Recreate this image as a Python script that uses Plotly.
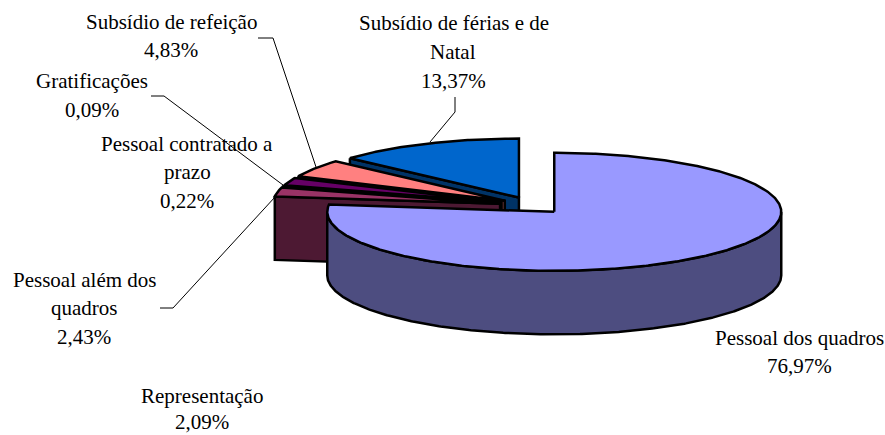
import math
import plotly.graph_objects as go

# Data
categories = ["Pessoal dos quadros", "Pessoal além dos quadros", "Pessoal contratado a prazo",
              "Gratificações", "Representação", "Subsídio de refeição", "Subsídio de férias e de Natal"]
values = [76.97, 2.43, 0.22, 0.09, 2.09, 4.83, 13.37]
colors = ["#9999FF", "#993366", "#FFFFCC", "#CCFFFF", "#660066", "#FF8080", "#0066CC"]
dark_colors = ["#4D4D80", "#4D1933", "#808066", "#668080", "#330033", "#804040", "#003366"]

# Projection of the 3D pie
CX, CY, RX, RY, DEPTH, EXPLODE = 532.4, 205.4, 227.0, 59.0, 63.5, 33.0
FONT = "Liberation Serif"
FONT_SIZE = 21

# Label lines: (text, x centre, y centre)
label_lines = [
    ("Subsídio de refeição", 171, 22), ("4,83%", 171, 50),
    ("Subsídio de férias e de", 454, 23), ("Natal", 453, 52), ("13,37%", 453, 81),
    ("Gratificações", 92, 81), ("0,09%", 92, 110),
    ("Pessoal contratado a", 187, 144), ("prazo", 187, 172), ("0,22%", 187, 201),
    ("Pessoal além dos", 84, 280), ("quadros", 84, 308), ("2,43%", 84, 337),
    ("Representação", 202, 396), ("2,09%", 202, 422),
    ("Pessoal dos quadros", 799, 338), ("76,97%", 799, 366),
]
leaders = [
    ([258, 273, 316], [38, 38, 167]),
    ([151, 164, 283], [96, 96, 185]),
    ([455, 455, 430], [97, 112, 142]),
    ([160, 173, 275], [308, 308, 197]),
]


def pt(cx, cy, deg):
    r = math.radians(deg)
    return cx + RX * math.sin(r), cy - RY * math.cos(r)


def arc(cx, cy, a0, a1, dy=0.0):
    n = max(2, int(abs(a1 - a0) * 2) + 1)
    pts = [pt(cx, cy, a0 + (a1 - a0) * i / (n - 1)) for i in range(n)]
    return [(x, y + dy) for x, y in pts]


def poly(fig, pts, fill, name):
    xs = [p[0] for p in pts] + [pts[0][0]]
    ys = [p[1] for p in pts] + [pts[0][1]]
    fig.add_trace(go.Scatter(x=xs, y=ys, mode="lines", fill="toself", fillcolor=fill,
                             line=dict(color="black", width=2.5, shape="linear"),
                             hoverinfo="skip", showlegend=False, name=name))


# Slice angles (clockwise from 12 o'clock)
total = sum(values)
angles = []
acc = 0.0
for v in values:
    angles.append((acc / total * 360, (acc + v) / total * 360))
    acc += v

fig = go.Figure()

# Painter's order: back slices first, main slice last
for i in range(len(values) - 1, -1, -1):
    a0, a1 = angles[i]
    mid = math.radians((a0 + a1) / 2)
    cx = CX + EXPLODE * math.sin(mid)
    cy = CY - EXPLODE * RY / RX * math.cos(mid)
    if i > 0:
        ox, oy = pt(cx, cy, a0)
        poly(fig, [(ox, oy), (cx, cy), (cx, cy + DEPTH), (ox, oy + DEPTH)], dark_colors[i], categories[i])
    else:
        top = arc(cx, cy, 90, 270)
        poly(fig, top + arc(cx, cy, 270, 90, DEPTH), dark_colors[i], categories[i])
    poly(fig, [(cx, cy)] + arc(cx, cy, a0, a1), colors[i], categories[i])

for lx, ly in leaders:
    fig.add_trace(go.Scatter(x=lx, y=ly, mode="lines", line=dict(color="black", width=1),
                             hoverinfo="skip", showlegend=False))

for text, x, y in label_lines:
    fig.add_annotation(x=x, y=y, text=text, showarrow=False, xanchor="center", yanchor="middle",
                       font=dict(family=FONT, size=FONT_SIZE, color="black"))

fig.update_layout(width=885, height=435, margin=dict(l=0, r=0, t=0, b=0),
                  paper_bgcolor="white", plot_bgcolor="white", showlegend=False,
                  xaxis=dict(range=[0, 885], visible=False, fixedrange=True),
                  yaxis=dict(range=[435, 0], visible=False, fixedrange=True))
fig.write_html("out.html", config=dict(displayModeBar=False),
               post_script="document.body.style.margin='0';document.body.style.overflow='hidden';")
